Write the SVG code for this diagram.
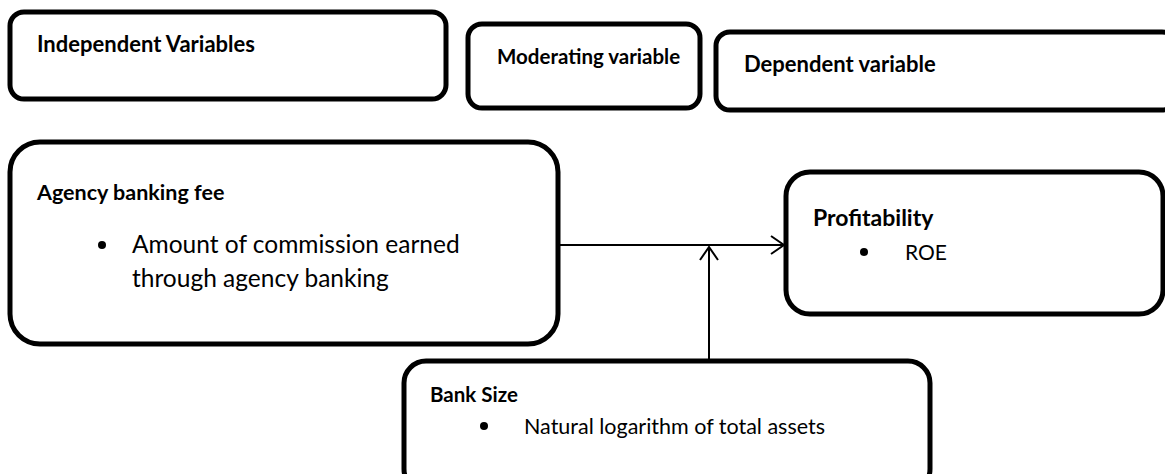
<svg xmlns="http://www.w3.org/2000/svg" width="1165" height="474" viewBox="0 0 1165 474">
<style>
.box{fill:#fff;stroke:#000;stroke-width:5}
.t{font-family:Lato,"Open Sans",sans-serif;fill:#000}
.b{font-weight:bold}
.ln{stroke:#000;stroke-width:2;fill:none}
</style>
<defs>
<marker id="arr" markerWidth="16" markerHeight="22" refX="14" refY="11" orient="auto" markerUnits="userSpaceOnUse">
<path d="M1,2 L14,11 L1,20" fill="none" stroke="#000" stroke-width="2"/>
</marker>
</defs>
<rect width="1165" height="474" fill="#fff"/>
<g id="independent-header">
<rect class="box" x="10" y="12" width="436" height="87" rx="14"/>
<text class="t b" x="37" y="52" font-size="22">Independent Variables</text>
</g>
<g id="moderating-header">
<rect class="box" x="468" y="24" width="232" height="84" rx="14"/>
<text class="t b" x="497" y="64" font-size="20.5">Moderating variable</text>
</g>
<g id="dependent-header">
<rect class="box" x="716" y="32" width="460" height="78" rx="14"/>
<text class="t b" x="744" y="72" font-size="22">Dependent variable</text>
</g>
<g id="agency-banking-fee">
<rect class="box" x="10" y="142" width="548" height="202" rx="30"/>
<text class="t b" x="37" y="200" font-size="21.5">Agency banking fee</text>
<circle cx="102" cy="245" r="4"/>
<text class="t" x="132" y="253" font-size="24.5">Amount of commission earned</text>
<text class="t" x="132" y="287" font-size="24.5">through agency banking</text>
</g>
<g id="profitability">
<rect class="box" x="786" y="172" width="377" height="142" rx="24"/>
<text class="t b" x="813" y="226" font-size="23">Profitability</text>
<circle cx="864" cy="252" r="4"/>
<text class="t" x="905" y="260" font-size="21">ROE</text>
</g>
<g id="bank-size">
<rect class="box" x="404" y="361" width="526" height="130" rx="22"/>
<text class="t b" x="430" y="402" font-size="20.5">Bank Size</text>
<circle cx="484" cy="426" r="4"/>
<text class="t" x="524" y="434" font-size="21.5">Natural logarithm of total assets</text>
</g>
<g id="connectors">
<line class="ln" x1="558" y1="245" x2="784" y2="245" marker-end="url(#arr)"/>
<line class="ln" x1="709" y1="359" x2="709" y2="247" marker-end="url(#arr)"/>
</g>
</svg>
